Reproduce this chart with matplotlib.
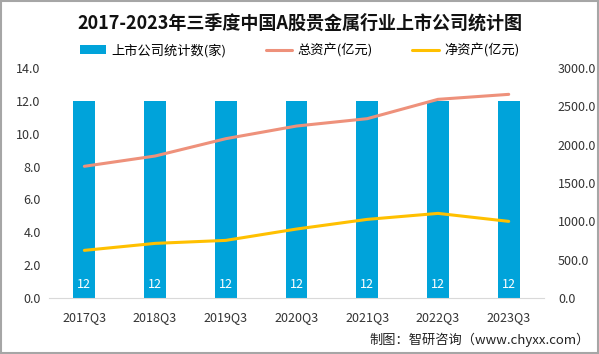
import matplotlib
matplotlib.use('Agg')
import matplotlib.pyplot as plt
from matplotlib.patches import Rectangle

plt.rcParams['font.family'] = ['Noto Sans CJK SC', 'DejaVu Sans']

quarters = ['2017Q3', '2018Q3', '2019Q3', '2020Q3', '2021Q3', '2022Q3', '2023Q3']
company_count = [12, 12, 12, 12, 12, 12, 12]
total_assets = [1718, 1852, 2078, 2243, 2339, 2591, 2656]
net_assets = [622, 713, 752, 900, 1026, 1104, 1000]

bar_color = '#00A3DA'
total_color = '#EE917B'
net_color = '#FFC000'

fig = plt.figure(figsize=(5.99, 3.54), dpi=100)
ax = fig.add_axes([0.0818, 0.158, 0.8265, 0.65])
ax2 = ax.twinx()

x = range(len(quarters))
bars = ax.bar(x, company_count, width=0.31, color=bar_color, label='上市公司统计数(家)', zorder=2)
for i, v in enumerate(company_count):
    ax.text(i, 0.85, str(v), color='white', ha='center', va='center', fontsize=9, zorder=3)

l1, = ax2.plot(x, total_assets, color=total_color, lw=2.2, label='总资产(亿元)', solid_capstyle='round')
l2, = ax2.plot(x, net_assets, color=net_color, lw=2.2, label='净资产(亿元)', solid_capstyle='round')

ax.set_xlim(-0.5, len(quarters) - 0.5)
ax.set_ylim(0, 14)
ax.set_yticks([0, 2, 4, 6, 8, 10, 12, 14])
ax.set_yticklabels([f'{t:.1f}' for t in [0, 2, 4, 6, 8, 10, 12, 14]])
ax2.set_ylim(0, 3000)
ax2.set_yticks([0, 500, 1000, 1500, 2000, 2500, 3000])
ax2.set_yticklabels([f'{t:.1f}' for t in [0, 500, 1000, 1500, 2000, 2500, 3000]])
ax.set_xticks(list(x))
ax.set_xticklabels(quarters)

for a in (ax, ax2):
    for s in ('top', 'left', 'right'):
        a.spines[s].set_visible(False)
    a.spines['bottom'].set_color('#D9D9D9')
    a.tick_params(length=0, labelsize=9, colors='#333333')
ax2.spines['bottom'].set_visible(False)
ax.tick_params(axis='x', pad=9)
ax.tick_params(axis='y', pad=6)
ax2.tick_params(axis='y', pad=10)

fig.text(0.5, 0.935, '2017-2023年三季度中国A股贵金属行业上市公司统计图', ha='center', va='center',
         fontsize=13, fontweight='bold', color='#111111')
fig.legend(handles=[bars, l1, l2], loc='center', bbox_to_anchor=(0.5, 0.858), ncol=3,
           frameon=False, fontsize=9.5, handlelength=2.0, handleheight=0.7, columnspacing=3.0,
           handletextpad=0.4)
fig.text(0.985, 0.04, '制图：智研咨询（www.chyxx.com）', ha='right', va='center', fontsize=9.5, color='#222222')

fig.patches.append(Rectangle((0.002, 0.003), 0.996, 0.994, transform=fig.transFigure,
                             fill=False, edgecolor='#A6A6A6', lw=1.5))

fig.savefig('out.png', dpi=100)
